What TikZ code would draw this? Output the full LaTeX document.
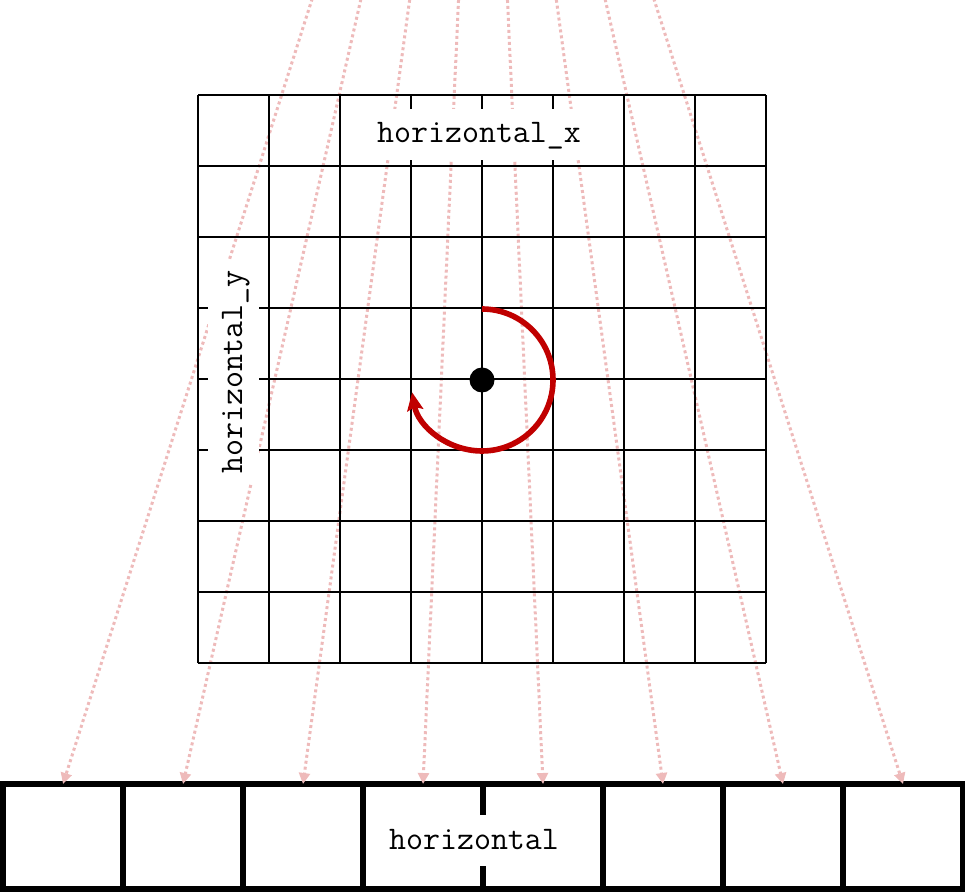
\documentclass[tikz,border=0pt]{standalone}
\usepackage{fontspec}
\usetikzlibrary{arrows.meta,positioning}
\definecolor{arcred}{RGB}{192,0,0}
\definecolor{feedpink}{RGB}{238,186,186}

\begin{document}
\begin{tikzpicture}[x=1pt, y=1pt,
    gridline/.style={line width=2.9pt},
    cellbox/.style={rectangle, draw, line width=5.2pt, minimum width=120pt, minimum height=105pt, inner sep=0pt, outer sep=0pt},
    feed/.style={feedpink, line width=3pt, dash pattern=on 3pt off 3pt, -{Triangle[length=11pt, width=11pt]}},
    turn/.style={arcred, line width=5.6pt, -{Stealth[length=18pt, width=16pt, inset=3pt]}},
    dot/.style={circle, fill=black, minimum size=25pt, inner sep=0pt},
    tag/.style={fill=white, font=\ttfamily\fontsize{33}{40}\selectfont, text height=24pt, text depth=7pt, inner sep=9.6pt, anchor=base}
]
\clip (0,0) rectangle (965,894);

% output row
\node[cellbox] (b1) at (63,57.5) {};
\foreach \i [count=\j from 1] in {2,...,8}
    \node[cellbox, right=0pt of b\j] (b\i) {};

% feeding lines from above
\foreach \i in {1,...,8} {
    \coordinate (s\i) at ({483+0.385*(120*\i-540)},924);
    \draw[feed] (s\i) -- (b\i.north);
}

% input grid
\foreach \i in {0,...,8} {
    \draw[gridline] (198+71*\i,231) -- (198+71*\i,799);
    \draw[gridline] (198,231+71*\i) -- (766,231+71*\i);
}

% rotation
\node[dot] (c) at (482,514) {};
\draw[turn] (482,585) arc[start angle=90, end angle=-170, radius=71];

% labels
\node[tag] (hx) at (479,751) {horizontal\_x};
\node[tag, rotate=90] (hy) at (242,522) {horizontal\_y};
\node[tag] (h) at (474,45) {horizontal};
\end{tikzpicture}
\end{document}
